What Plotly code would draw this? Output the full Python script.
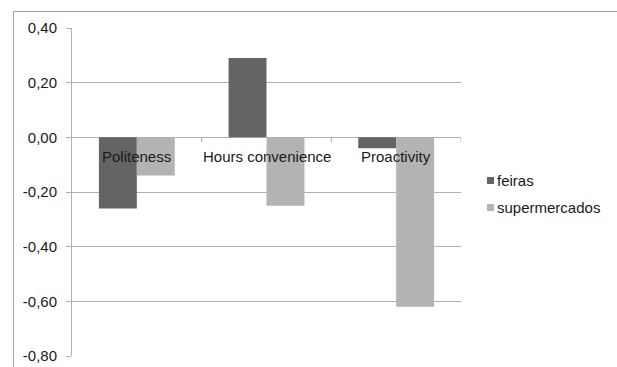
import plotly.graph_objects as go

# Chart data
categories = ["Politeness", "Hours convenience", "Proactivity"]
series_names = ["feiras", "supermercados"]
feiras = [-0.26, 0.29, -0.04]
supermercados = [-0.14, -0.25, -0.62]
y_ticks = [0.40, 0.20, 0.00, -0.20, -0.40, -0.60, -0.80]
y_tick_labels = ["0,40", "0,20", "0,00", "-0,20", "-0,40", "-0,60", "-0,80"]

colors = ["#646464", "#b3b3b3"]
grid = "#b0b0b0"
font_family = "Liberation Sans, Arial, sans-serif"
text_color = "#1a1a1a"

W, H = 617, 367
L, R, T, B = 72, 156, 28, 11
pw, ph = W - L - R, H - T - B


def px_x(px):
    return (px - L) / pw


def px_y(py):
    return 1 - (py - T) / ph


fig = go.Figure()
for name, vals, col in zip(series_names, [feiras, supermercados], colors):
    fig.add_trace(go.Bar(
        x=categories, y=vals, name=name,
        marker=dict(color=col, line=dict(width=0)),
        showlegend=False,
    ))

shapes = []
# outer chart frame (top and left edges)
shapes.append(dict(type="line", xref="paper", yref="paper",
                   x0=px_x(13.5), x1=px_x(640), y0=px_y(11.5), y1=px_y(11.5),
                   line=dict(color="#a6a6a6", width=1)))
shapes.append(dict(type="line", xref="paper", yref="paper",
                   x0=px_x(13.5), x1=px_x(13.5), y0=px_y(11.5), y1=px_y(380),
                   line=dict(color="#a6a6a6", width=1)))
# category-boundary tick marks on the zero line
for xb in [0.5, 1.5, 2.5]:
    shapes.append(dict(type="line", xref="x", yref="y", ysizemode="pixel",
                       yanchor=0, x0=xb, x1=xb, y0=0, y1=-5,
                       line=dict(color=grid, width=1)))

annotations = []
# category labels sitting just below the zero line
for c in categories:
    annotations.append(dict(x=c, y=0, xref="x", yref="y", text=c,
                            showarrow=False, yanchor="middle", yshift=-19,
                            font=dict(size=15, color=text_color, family=font_family)))

# legend
legend_rows = [180.5, 207.5]
for name, col, ly in zip(series_names, colors, legend_rows):
    shapes.append(dict(type="rect", xref="paper", yref="paper",
                       x0=px_x(487), x1=px_x(494), y0=px_y(ly - 3.5), y1=px_y(ly + 3.5),
                       fillcolor=col, line=dict(width=0)))
    annotations.append(dict(x=px_x(495), y=px_y(ly), xref="paper", yref="paper",
                            text=name, showarrow=False, xanchor="left", yanchor="middle",
                            font=dict(size=15, color=text_color, family=font_family)))

fig.update_layout(
    width=W, height=H,
    margin=dict(l=L, r=R, t=T, b=B, pad=0, autoexpand=False),
    paper_bgcolor="white", plot_bgcolor="white",
    barmode="group", bargap=0.415, bargroupgap=0,
    font=dict(family=font_family, size=15, color=text_color),
    shapes=shapes, annotations=annotations,
    xaxis=dict(showticklabels=False, showgrid=False, zeroline=False,
               showline=False, ticks="", range=[-0.5, 2.5], automargin=False),
    yaxis=dict(range=[-0.8, 0.4], tickvals=y_ticks, ticktext=y_tick_labels,
               automargin=False,
               showgrid=True, gridcolor=grid, gridwidth=1,
               zeroline=True, zerolinecolor=grid, zerolinewidth=1,
               showline=True, linecolor=grid, linewidth=1,
               ticks="outside", ticklen=5, tickcolor=grid,
               ticklabelstandoff=6,
               tickfont=dict(size=15, color=text_color, family=font_family)),
)

fig.write_html("out.html")
